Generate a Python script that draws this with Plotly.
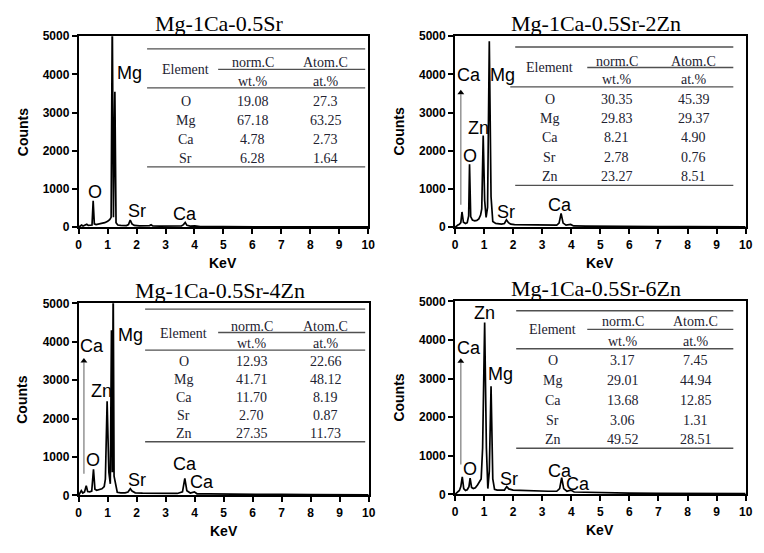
import plotly.graph_objects as go

W, H = 764, 553

# ---------------- data ----------------
titles = ["Mg-1Ca-0.5Sr", "Mg-1Ca-0.5Sr-2Zn", "Mg-1Ca-0.5Sr-4Zn", "Mg-1Ca-0.5Sr-6Zn"]

energy_a = [0.00, 0.05, 0.10, 0.15, 0.22, 0.28, 0.33, 0.40, 0.46, 0.50, 0.54, 0.60, 0.70, 0.80,
            0.90, 1.00, 1.07, 1.12, 1.16, 1.20, 1.23, 1.25, 1.29, 1.35, 1.45, 1.55, 1.65, 1.72,
            1.78, 1.84, 1.92, 2.10, 2.30, 2.45, 2.50, 2.56, 2.80, 3.00, 3.30, 3.55, 3.62, 3.68,
            3.74, 3.85, 4.01, 4.20, 5.0, 6.0, 7.0, 8.0, 9.0, 10.0]
counts_a = [0, 30, 60, 35, 60, 80, 50, 45, 60, 690, 90, 70, 85, 105,
            120, 160, 200, 260, 5600, 260, 3550, 3550, 120, 60, 50, 55, 45, 70,
            190, 90, 50, 35, 40, 45, 65, 35, 30, 30, 25, 35, 70, 125,
            50, 30, 35, 20, 15, 12, 10, 10, 8, 8]

energy_b = [0.00, 0.05, 0.10, 0.15, 0.20, 0.24, 0.29, 0.36, 0.42, 0.47, 0.50, 0.54, 0.60, 0.68,
            0.75, 0.82, 0.88, 0.92, 0.97, 1.02, 1.07, 1.12, 1.18, 1.24, 1.30, 1.40, 1.50, 1.60,
            1.70, 1.77, 1.84, 1.92, 2.05, 2.30, 2.60, 2.90, 3.20, 3.50, 3.58, 3.65, 3.72, 3.82,
            3.98, 4.08, 4.50, 5.0, 6.0, 7.0, 8.0, 9.0, 10.0]
counts_b = [0, 40, 60, 80, 120, 400, 130, 100, 120, 300, 1650, 280, 190, 170,
            180, 220, 320, 480, 2400, 700, 260, 520, 4870, 800, 150, 100, 90, 85,
            100, 195, 120, 80, 70, 65, 60, 55, 50, 55, 110, 360, 110, 55,
            75, 35, 30, 25, 20, 18, 15, 14, 12]

energy_c = [0.00, 0.05, 0.09, 0.14, 0.20, 0.26, 0.31, 0.38, 0.45, 0.51, 0.56, 0.62, 0.70, 0.80,
            0.88, 0.92, 0.98, 1.04, 1.09, 1.13, 1.16, 1.19, 1.22, 1.27, 1.33, 1.45, 1.60, 1.70,
            1.78, 1.84, 1.95, 2.20, 2.50, 2.80, 3.10, 3.40, 3.58, 3.66, 3.73, 3.85, 3.99, 4.08,
            4.50, 5.0, 6.0, 7.0, 8.0, 9.0, 10.0]
counts_c = [0, 50, 120, 60, 90, 250, 100, 90, 110, 680, 160, 130, 140, 170,
            230, 420, 2450, 600, 300, 4300, 600, 5600, 500, 250, 80, 65, 65, 85,
            170, 110, 65, 55, 50, 48, 45, 48, 90, 440, 120, 60, 90, 40,
            35, 30, 25, 22, 20, 18, 15]

energy_d = [0.00, 0.05, 0.10, 0.15, 0.20, 0.25, 0.30, 0.36, 0.42, 0.48, 0.52, 0.57, 0.63, 0.70,
            0.78, 0.84, 0.90, 0.95, 1.02, 1.08, 1.13, 1.18, 1.24, 1.30, 1.36, 1.45, 1.60, 1.70,
            1.78, 1.85, 2.00, 2.30, 2.60, 2.90, 3.20, 3.50, 3.60, 3.67, 3.74, 3.85, 3.98, 4.10,
            4.50, 5.0, 6.0, 7.0, 8.0, 9.0, 10.0]
counts_d = [0, 40, 60, 100, 200, 450, 150, 100, 120, 200, 420, 180, 150, 170,
            250, 330, 400, 1200, 4450, 1200, 150, 600, 2800, 400, 130, 110, 100, 110,
            200, 140, 110, 100, 100, 90, 80, 80, 150, 430, 150, 80, 110, 60,
            50, 40, 30, 25, 25, 20, 20]

energies = [energy_a, energy_b, energy_c, energy_d]
counts = [counts_a, counts_b, counts_c, counts_d]

# composition tables (kept as printed strings)
elements_a = ["O", "Mg", "Ca", "Sr"]
wt_a = ["19.08", "67.18", "4.78", "6.28"]
at_a = ["27.3", "63.25", "2.73", "1.64"]

elements_b = ["O", "Mg", "Ca", "Sr", "Zn"]
wt_b = ["30.35", "29.83", "8.21", "2.78", "23.27"]
at_b = ["45.39", "29.37", "4.90", "0.76", "8.51"]

elements_c = ["O", "Mg", "Ca", "Sr", "Zn"]
wt_c = ["12.93", "41.71", "11.70", "2.70", "27.35"]
at_c = ["22.66", "48.12", "8.19", "0.87", "11.73"]

elements_d = ["O", "Mg", "Ca", "Sr", "Zn"]
wt_d = ["3.17", "29.01", "13.68", "3.06", "49.52"]
at_d = ["7.45", "44.94", "12.85", "1.31", "28.51"]

tables = [(elements_a, wt_a, at_a), (elements_b, wt_b, at_b),
          (elements_c, wt_c, at_c), (elements_d, wt_d, at_d)]

# ---------------- layout helpers ----------------
# panel boxes in pixels: left, top, right, bottom
panels = [(76.7, 30, 370, 226), (458, 30, 752.5, 226),
          (76.7, 304, 370.5, 501), (458, 302, 752.5, 500)]


def px(x):
    return x / W


def py(y):
    return 1 - y / H


# peak labels: (text, keV, counts)
peak_labels = [
    [("Mg", 1.74, 4030), ("O", 0.56, 920), ("Sr", 2.03, 420), ("Ca", 3.67, 360)],
    [("Ca", 0.47, 3980), ("Mg", 1.63, 3980), ("Zn", 0.81, 2600), ("O", 0.5, 1860),
     ("Sr", 1.76, 410), ("Ca", 3.6, 590)],
    [("Mg", 1.8, 4170), ("Ca", 0.45, 3900), ("Zn", 0.79, 2710), ("O", 0.51, 915),
     ("Sr", 2.0, 410), ("Ca", 3.67, 820), ("Ca", 4.24, 340)],
    [("Zn", 1.02, 4710), ("Ca", 0.47, 3800), ("Mg", 1.55, 3130), ("O", 0.5, 650),
     ("Sr", 1.85, 400), ("Ca", 3.6, 610), ("Ca", 4.24, 270)],
]

# Ca L-line marker arrows: (keV, start counts, tip counts); first panel has none
ca_arrows = [None, (0.2, 590, 3580), (0.18, 560, 3560), (0.2, 770, 3510)]

# table geometry in pixels
table_geo = [
    dict(left=146, right=367, top=43, norm_y=57, mid_y=64, mid_x0=218, el_y=64, wt_y=76,
         hdr=83, hdr_x0=146, rows=[97, 116.5, 136, 155], bottom=164, cols=[185, 253, 327]),
    dict(left=519, right=740, top=41, norm_y=56, mid_y=62, mid_x0=592, el_y=62, wt_y=74,
         hdr=82, hdr_x0=514, rows=[95, 114.5, 134, 154, 174], bottom=183, cols=[554, 622, 700]),
    dict(left=144, right=367, top=310, norm_y=328, mid_y=334, mid_x0=218, el_y=335, wt_y=345,
         hdr=352, hdr_x0=144, rows=[364, 382.5, 401, 419.5, 438], bottom=446, cols=[183, 252, 327]),
    dict(left=520, right=740, top=311.7, norm_y=323, mid_y=330.7, mid_x0=592, el_y=331, wt_y=343,
         hdr=350.7, hdr_x0=520, rows=[363, 383, 404, 424, 444], bottom=452.7, cols=[557, 628, 702]),
]

fig = go.Figure()
annotations = []
shapes = []

tick_font = dict(family="Liberation Sans", size=12, color="black", weight="bold")
serif = "Liberation Serif"
table_color = "#222230"
rule_color = "#505050"

for i in range(4):
    n = "" if i == 0 else str(i + 1)
    xa, ya = "x" + n, "y" + n
    l, t, r, b = panels[i]

    fig.add_trace(go.Scatter(x=energies[i], y=counts[i], mode="lines",
                             line=dict(color="black", width=1.7),
                             xaxis=xa, yaxis=ya, showlegend=False, hoverinfo="skip"))

    fig.layout["xaxis" + n] = dict(
        domain=[px(l), px(r)], range=[0, 10], anchor=ya, tickmode="array",
        tickvals=list(range(11)), showline=True, linecolor="black", linewidth=1.8,
        mirror=True, ticks="outside", ticklen=5, tickwidth=1.6, tickcolor="black",
        showgrid=False, zeroline=False, tickfont=tick_font)
    fig.layout["yaxis" + n] = dict(
        domain=[py(b), py(t)], range=[0, 5000], anchor=xa, tickmode="array",
        tickvals=[0, 1000, 2000, 3000, 4000, 5000], showline=True, linecolor="black",
        linewidth=1.8, mirror=True, ticks="outside", ticklen=5, tickwidth=1.6,
        tickcolor="black", showgrid=False, zeroline=False, tickfont=tick_font)

    # panel title
    annotations.append(dict(text=titles[i], xref="paper", yref="paper",
                            x=px((l + r) / 2 - 4), y=py(t - 13), showarrow=False,
                            xanchor="center", yanchor="middle",
                            font=dict(family=serif, size=22, color="black")))
    # axis titles
    annotations.append(dict(text="Counts", xref="paper", yref="paper",
                            x=px(l - 57), y=py((t + b) / 2), showarrow=False, textangle=-90,
                            xanchor="center", yanchor="middle",
                            font=dict(family="Liberation Sans", size=14, color="black",
                                      weight="bold")))
    annotations.append(dict(text="KeV", xref="paper", yref="paper",
                            x=px((l + r) / 2), y=py(b + 37), showarrow=False,
                            xanchor="center", yanchor="middle",
                            font=dict(family="Liberation Sans", size=14, color="black",
                                      weight="bold")))

    # peak labels
    for txt, ex, cy in peak_labels[i]:
        annotations.append(dict(text=txt, xref=xa, yref=ya, x=ex, y=cy, showarrow=False,
                                xanchor="center", yanchor="middle",
                                font=dict(family="Liberation Sans", size=18, color="black")))

    # Ca arrow: gray shaft, black head
    if ca_arrows[i] is not None:
        ax_, y0, y1 = ca_arrows[i]
        fig.add_trace(go.Scatter(x=[ax_, ax_], y=[y0, y1 - 100], mode="lines",
                                 line=dict(color="#8c8c8c", width=1.4),
                                 xaxis=xa, yaxis=ya, showlegend=False, hoverinfo="skip"))
        fig.add_trace(go.Scatter(x=[ax_], y=[y1 - 60], mode="markers",
                                 marker=dict(symbol="triangle-up", size=6, color="black"),
                                 xaxis=xa, yaxis=ya, showlegend=False, hoverinfo="skip"))

    # composition table
    g = table_geo[i]
    els, wts, ats = tables[i]

    def rule(x0, x1, y):
        shapes.append(dict(type="line", xref="paper", yref="paper", x0=px(x0), x1=px(x1),
                           y0=py(y), y1=py(y), line=dict(color=rule_color, width=1.4)))

    def cell(txt, x, y):
        annotations.append(dict(text=txt, xref="paper", yref="paper", x=px(x), y=py(y),
                                showarrow=False, xanchor="center", yanchor="middle",
                                font=dict(family=serif, size=14, color=table_color)))

    rule(g["left"], g["right"], g["top"])
    rule(g["mid_x0"], g["right"], g["mid_y"])
    rule(g["hdr_x0"], g["right"], g["hdr"])
    rule(g["left"], g["right"], g["bottom"])
    cell("Element", g["cols"][0], g["el_y"])
    cell("norm.C", g["cols"][1], g["norm_y"])
    cell("Atom.C", g["cols"][2], g["norm_y"])
    cell("wt.%", g["cols"][1], g["wt_y"])
    cell("at.%", g["cols"][2], g["wt_y"])
    for k, el in enumerate(els):
        cell(el, g["cols"][0], g["rows"][k])
        cell(wts[k], g["cols"][1], g["rows"][k])
        cell(ats[k], g["cols"][2], g["rows"][k])

fig.update_layout(width=W, height=H, margin=dict(l=0, r=0, t=0, b=0),
                  paper_bgcolor="white", plot_bgcolor="white",
                  annotations=annotations, shapes=shapes, showlegend=False)

fig.write_html("out.html")
